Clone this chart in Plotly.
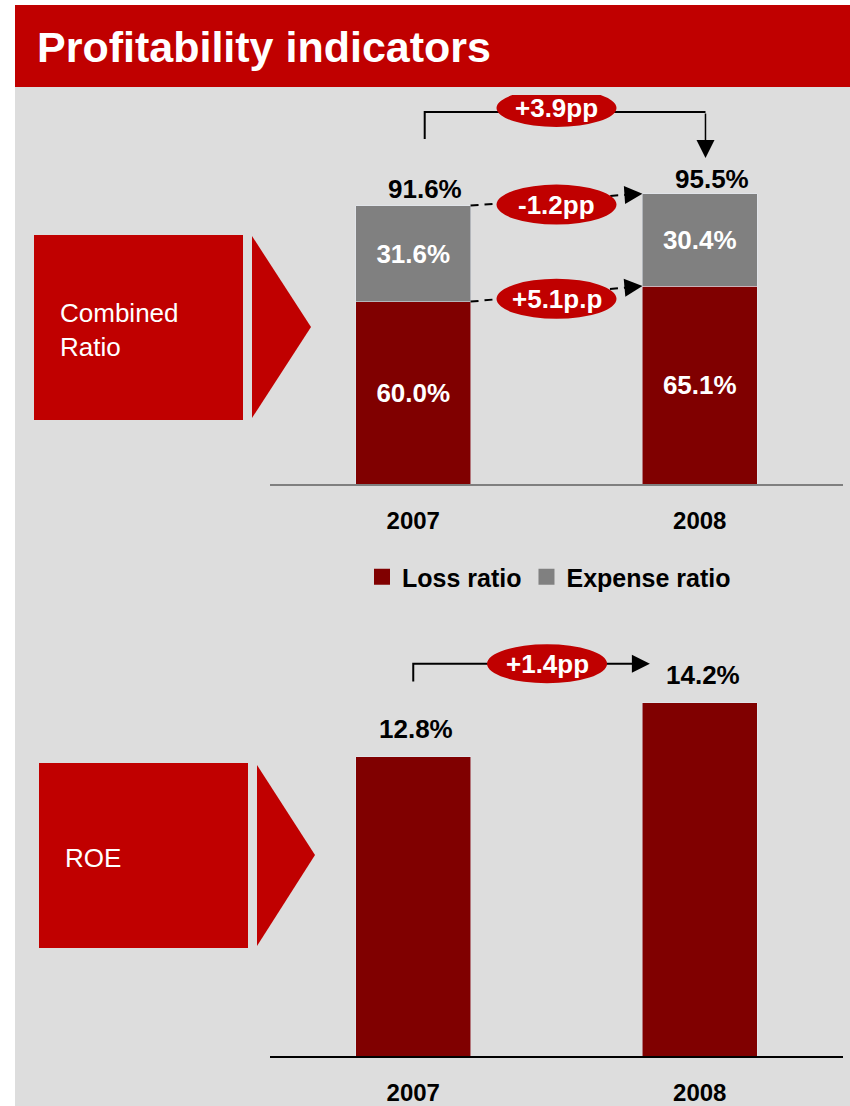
import plotly.graph_objects as go

# data
years = ["2007", "2008"]
loss_ratio = [60.0, 65.1]
expense_ratio = [31.6, 30.4]
combined_ratio = [91.6, 95.5]
roe = [12.8, 14.2]

combined_change = "+3.9pp"
expense_change = "-1.2pp"
loss_change = "+5.1p.p"
roe_change = "+1.4pp"

W, H = 850, 1106
RED = "#c00000"
DARK_RED = "#800000"
GREY = "#808080"
BG = "#dddddd"
FONT = "Liberation Sans, Arial, sans-serif"


def pxx(p):
    return p / W


def pxy(p):
    return 1 - p / H


xpos = list(range(len(years)))

fig = go.Figure()

# combined ratio (stacked)
fig.add_trace(go.Bar(
    x=xpos, y=loss_ratio, name="Loss ratio", marker_color=DARK_RED, width=0.4,
    texttemplate="%{y:.1f}%", textposition="inside", insidetextanchor="middle",
    textfont=dict(color="white", size=26, weight="bold", family=FONT),
    constraintext="none", showlegend=False, xaxis="x", yaxis="y",
))
fig.add_trace(go.Bar(
    x=xpos, y=expense_ratio, name="Expense ratio", marker_color=GREY, width=0.4,
    texttemplate="%{y:.1f}%", textposition="inside", insidetextanchor="middle",
    textfont=dict(color="white", size=26, weight="bold", family=FONT),
    constraintext="none", showlegend=False, xaxis="x", yaxis="y",
))
# legend entries with bigger squares
for name, col in [("Loss ratio", DARK_RED), ("Expense ratio", GREY)]:
    fig.add_trace(go.Scatter(
        x=[None], y=[None], mode="markers", name=name,
        marker=dict(symbol="square", size=16, color=col),
        xaxis="x", yaxis="y",
    ))

# ROE
fig.add_trace(go.Bar(
    x=xpos, y=roe, name="ROE", marker_color=DARK_RED, width=0.4,
    showlegend=False, xaxis="x2", yaxis="y2",
))

annotations = []
shapes = []

# background + title bar
shapes.append(dict(type="rect", xref="paper", yref="paper", x0=pxx(15), x1=1,
                   y0=0, y1=pxy(87), fillcolor=BG, line_width=0, layer="below"))
shapes.append(dict(type="rect", xref="paper", yref="paper", x0=pxx(15), x1=1,
                   y0=pxy(87), y1=pxy(5), fillcolor=RED, line_width=0, layer="below"))
annotations.append(dict(
    text="<b>Profitability indicators</b>", xref="paper", yref="paper",
    x=pxx(35), y=pxy(47), xanchor="left", yanchor="middle", showarrow=False,
    font=dict(family=FONT, size=43, color="white"),
))

# left boxes with arrows
for label, (x0, x1, y0, y1), (tx0, tx1, ty0, ty1, tmid) in [
    ("Combined<br>Ratio", (34, 243, 235, 420), (252, 311, 236, 418, 327)),
    ("ROE", (39, 248, 763, 948), (257, 315, 765, 946, 855)),
]:
    shapes.append(dict(type="rect", xref="paper", yref="paper",
                       x0=pxx(x0), x1=pxx(x1), y0=pxy(y1), y1=pxy(y0),
                       fillcolor=RED, line_width=0))
    shapes.append(dict(type="path", xref="paper", yref="paper",
                       path=f"M {pxx(tx0)},{pxy(ty0)} L {pxx(tx1)},{pxy(tmid)} "
                            f"L {pxx(tx0)},{pxy(ty1)} Z",
                       fillcolor=RED, line_width=0))
    annotations.append(dict(
        text=label, xref="paper", yref="paper", x=pxx(x0 + 24),
        y=pxy((y0 + y1) / 2 + 2), xanchor="left", yanchor="middle", align="left",
        showarrow=False, font=dict(family=FONT, size=26, color="white"),
    ))

# total labels
for i, tot in enumerate(combined_ratio):
    annotations.append(dict(
        text=f"<b>{tot:.1f}%</b>", x=xpos[i], y=tot, xref="x", yref="y",
        xshift=12, yshift=17 - 2 * i, yanchor="middle", showarrow=False,
        font=dict(family=FONT, size=26, color="black"),
    ))
for i, v in enumerate(roe):
    annotations.append(dict(
        text=f"<b>{v:.1f}%</b>", x=xpos[i], y=v, xref="x2", yref="y2",
        xshift=3, yshift=28, yanchor="middle", showarrow=False,
        font=dict(family=FONT, size=26, color="black"),
    ))


def pill(text, x, y, xref, yref, shift=0, h=39):
    shapes.append(dict(type="circle", xref=xref, yref=yref, xsizemode="pixel",
                       ysizemode="pixel", xanchor=x, yanchor=y, x0=-60, x1=60,
                       y0=shift - h / 2, y1=shift + h / 2, fillcolor=RED,
                       line_width=0))
    annotations.append(dict(
        text=f"<b>{text}</b>", x=x, y=y, xref=xref, yref=yref, yshift=shift,
        showarrow=False, font=dict(family=FONT, size=26, color="white"),
    ))


def arrow_head(x, y, ax, ay, xref, yref):
    annotations.append(dict(
        text="", x=x, y=y, ax=ax, ay=ay, xref=xref, yref=yref,
        axref=xref, ayref=yref, showarrow=True, arrowhead=2, arrowsize=2.4,
        arrowwidth=1.5, arrowcolor="black", standoff=0,
    ))


# +3.9pp bracket (offsets in ratio units above the totals)
lx, rx = 0.04, 1.02
y_lb = combined_ratio[0] + 21.9
y_top = max(combined_ratio) + 26.9
y_tip = combined_ratio[1] + 11.7
shapes.append(dict(type="path", xref="x", yref="y",
                   path=f"M {lx},{y_lb} L {lx},{y_top} L {rx},{y_top}",
                   line=dict(color="black", width=2)))
arrow_head(rx, y_tip, rx, y_top, "x", "y")
pill(combined_change, 0.5, y_top, "x", "y", shift=4, h=38)

# dashed arrows between segments
for (a, b), txt in [((combined_ratio[0], combined_ratio[1]), expense_change),
                    ((loss_ratio[0], loss_ratio[1]), loss_change)]:
    xs, xe, xt = 0.2, 0.8, 0.74
    yt = a + (b - a) * (xt - xs) / (xe - xs)
    shapes.append(dict(type="line", xref="x", yref="y", x0=xs, y0=a, x1=xt, y1=yt,
                       line=dict(color="black", width=2, dash="8px,6px")))
    arrow_head(xe, b, xt, yt, "x", "y")
    pill(txt, 0.5, (a + b) / 2, "x", "y", shift=-5, h=40)

# +1.4pp bracket for ROE
r_lb = max(roe) + 0.55
r_top = max(roe) + 1.01
shapes.append(dict(type="path", xref="x2", yref="y2",
                   path=f"M 0,{r_lb} L 0,{r_top} L 0.77,{r_top}",
                   line=dict(color="black", width=2)))
arrow_head(0.826, r_top, 0.77, r_top, "x2", "y2")
pill(roe_change, 0.467, r_top, "x2", "y2", h=39)

axis_common = dict(
    range=[-0.5, 1.5], tickvals=xpos, ticktext=years, showgrid=False,
    zeroline=False, showline=True, linewidth=1.5, ticks="", automargin=False,
    tickfont=dict(family=FONT, size=24, color="black", weight="bold"),
    ticklabelstandoff=14, fixedrange=True,
)

fig.update_layout(
    width=W, height=H,
    margin=dict(l=0, r=0, t=0, b=0, autoexpand=False),
    paper_bgcolor="white",
    plot_bgcolor="rgba(0,0,0,0)",
    barmode="stack",
    font=dict(family=FONT),
    xaxis=dict(domain=[pxx(270), pxx(843)], anchor="y", linecolor="#7f7f7f",
               **axis_common),
    yaxis=dict(domain=[pxy(484), pxy(95)], range=[0, (484 - 95) / 3.04],
               visible=False, anchor="x", automargin=False),
    xaxis2=dict(domain=[pxx(270), pxx(843)], anchor="y2", linecolor="black",
                **axis_common),
    yaxis2=dict(domain=[pxy(1056), pxy(600)], range=[5.05, 5.05 + 456 / 38.6],
                visible=False, anchor="x2", automargin=False),
    legend=dict(orientation="h", x=pxx(549), y=pxy(577), xanchor="center",
                yanchor="middle", bgcolor="rgba(0,0,0,0)", traceorder="normal",
                font=dict(family=FONT, size=25, color="black", weight="bold"),
                itemwidth=30, tracegroupgap=0),
    shapes=shapes,
    annotations=annotations,
)

# page body has a default margin; remove it so the figure sits at the corner
fig.write_html("out.html", config={"displayModeBar": False},
               post_script="document.body.style.margin='0';")
